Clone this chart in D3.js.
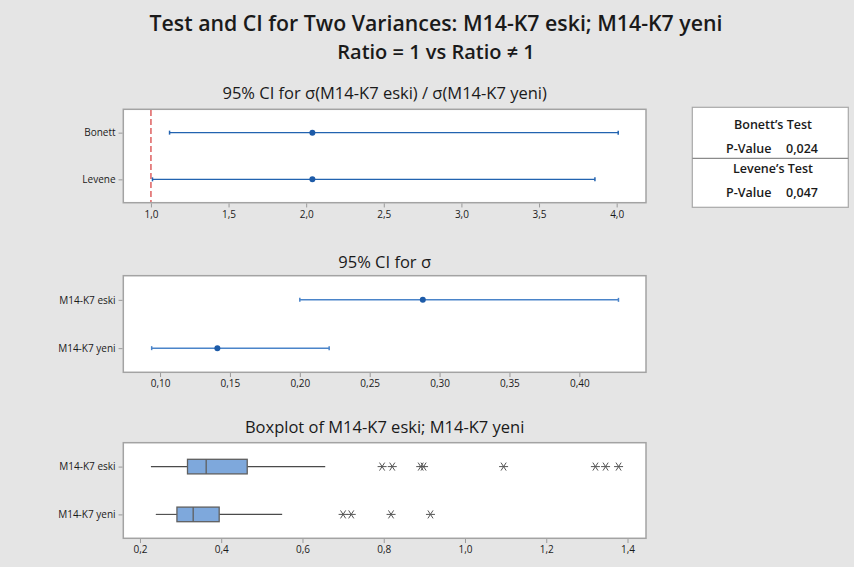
<!DOCTYPE html>
<html>
<head>
<meta charset="utf-8">
<script src="https://cdn.jsdelivr.net/npm/d3@7"></script>
<style>
  html, body { margin: 0; padding: 0; background: #e5e5e5; }
  svg { display: block; }
  text { font-family: "Open Sans", "Noto Sans", sans-serif; fill: #1a1a1a; }
</style>
</head>
<body>
<svg id="chart" width="854" height="567"></svg>
<script>
// ---------- DATA ----------
const ratioMethods = ["Bonett", "Levene"];
const ratioLower = [1.12, 1.01];
const ratioEstimate = [2.04, 2.04];
const ratioUpper = [4.01, 3.86];
const ratioTicks = [1.0, 1.5, 2.0, 2.5, 3.0, 3.5, 4.0];

const samples = ["M14-K7 eski", "M14-K7 yeni"];
const sigmaLower = [0.200, 0.094];
const sigmaEstimate = [0.288, 0.141];
const sigmaUpper = [0.428, 0.221];
const sigmaTicks = [0.10, 0.15, 0.20, 0.25, 0.30, 0.35, 0.40];

const whiskerLow = [0.227, 0.239];
const quartile1 = [0.317, 0.291];
const median = [0.363, 0.331];
const quartile3 = [0.464, 0.395];
const whiskerHigh = [0.656, 0.550];
const outliersEski = [0.796, 0.821, 0.891, 0.898, 1.095, 1.321, 1.346, 1.378];
const outliersYeni = [0.700, 0.720, 0.818, 0.915];
const boxTicks = [0.2, 0.4, 0.6, 0.8, 1.0, 1.2, 1.4];

const testNames = ["Bonett\u2019s Test", "Levene\u2019s Test"];
const pValues = ["0,024", "0,047"];

const mainTitle = "Test and CI for Two Variances: M14-K7 eski; M14-K7 yeni";
const subTitle = "Ratio = 1 vs Ratio \u2260 1";
const panelTitles = ["95% CI for \u03c3(M14-K7 eski) / \u03c3(M14-K7 yeni)", "95% CI for \u03c3", "Boxplot of M14-K7 eski; M14-K7 yeni"];

// ---------- SETUP ----------
const svg = d3.select("#chart");
const locale = d3.formatLocale({decimal: ",", thousands: ".", grouping: [3], currency: ["", ""]});
const W = 854, H = 567;
svg.append("rect").attr("width", W).attr("height", H).attr("fill", "#e5e5e5");

svg.append("text").attr("x", 436).attr("y", 30.5).attr("text-anchor", "middle")
  .style("font-size", "21.3px").style("font-weight", 600).text(mainTitle);
svg.append("text").attr("x", 436).attr("y", 58.5).attr("text-anchor", "middle")
  .style("font-size", "20px").style("font-weight", 600).text(subTitle);

const xL = 123.3, xR = 646;
const gridStroke = "#a3a3a3";

function panel(cfg) {
  const g = svg.append("g");
  const x = d3.scaleLinear().domain(cfg.domain).range([xL, xR]);
  const y = d3.scalePoint().domain(cfg.cats).range([cfg.top, cfg.bottom]).padding(0.5);
  g.append("rect").attr("x", xL).attr("y", cfg.top).attr("width", xR - xL).attr("height", cfg.bottom - cfg.top)
    .attr("fill", "#ffffff").attr("stroke", gridStroke).attr("stroke-width", 1.5);
  g.append("text").attr("x", (xL + xR) / 2).attr("y", cfg.titleY).attr("text-anchor", "middle")
    .style("font-size", "16.5px").style("font-weight", 500).text(cfg.title);
  const xa = g.append("g").attr("transform", `translate(0,${cfg.bottom + 0.75})`)
    .call(d3.axisBottom(x).tickValues(cfg.ticks).tickSize(4).tickPadding(3).tickFormat(locale.format(cfg.fmt)));
  xa.select(".domain").remove();
  xa.selectAll("line").attr("stroke", "#9a9a9a");
  xa.selectAll("text").style("font-size", "10px").style("font-family", "'Open Sans', sans-serif").attr("fill", "#222");
  const ya = g.append("g").attr("transform", `translate(${xL - 0.75},0)`)
    .call(d3.axisLeft(y).tickSize(4).tickPadding(3));
  ya.select(".domain").remove();
  ya.selectAll("line").attr("stroke", "#9a9a9a");
  ya.selectAll("text").style("font-size", "10px").style("font-family", "'Open Sans', sans-serif").attr("fill", "#222");
  return {g, x, y};
}

function ciPanel(p, cats, lo, est, hi, lineColor, dotColor, lw) {
  const rows = cats.map((c, i) => ({c, lo: lo[i], est: est[i], hi: hi[i]}));
  const r = p.g.selectAll(".ci").data(rows).enter().append("g");
  r.append("line").attr("x1", d => p.x(d.lo)).attr("x2", d => p.x(d.hi))
    .attr("y1", d => p.y(d.c)).attr("y2", d => p.y(d.c)).attr("stroke", lineColor).attr("stroke-width", lw);
  ["lo", "hi"].forEach(k => {
    r.append("line").attr("x1", d => p.x(d[k])).attr("x2", d => p.x(d[k]))
      .attr("y1", d => p.y(d.c) - 2).attr("y2", d => p.y(d.c) + 2).attr("stroke", lineColor).attr("stroke-width", 1.5);
  });
  r.append("circle").attr("cx", d => p.x(d.est)).attr("cy", d => p.y(d.c)).attr("r", 3).attr("fill", dotColor);
}

// Panel 1: ratio CI
const p1 = panel({domain: [0.822, 4.189], cats: ratioMethods, top: 109.3, bottom: 202.7, titleY: 99,
  title: panelTitles[0], ticks: ratioTicks, fmt: ".1f"});
p1.g.append("line").attr("x1", p1.x(1)).attr("x2", p1.x(1)).attr("y1", 110).attr("y2", 202)
  .attr("stroke", "#e06a6a").attr("stroke-width", 1.6).attr("stroke-dasharray", "6,3");
ciPanel(p1, ratioMethods, ratioLower, ratioEstimate, ratioUpper, "#2263b0", "#1d5ba8", 1.3);

// Panel 2: sigma CI
const p2 = panel({domain: [0.0737, 0.4477], cats: samples, top: 275.7, bottom: 372.3, titleY: 268,
  title: panelTitles[1], ticks: sigmaTicks, fmt: ".2f"});
ciPanel(p2, samples, sigmaLower, sigmaEstimate, sigmaUpper, "#4a84c9", "#1d5ba8", 1.5);

// Panel 3: boxplot
const p3 = panel({domain: [0.159, 1.4455], cats: samples, top: 442.7, bottom: 538.3, titleY: 433,
  title: panelTitles[2], ticks: boxTicks, fmt: ".1f"});
const boxes = samples.map((c, i) => ({c, wl: whiskerLow[i], q1: quartile1[i], md: median[i], q3: quartile3[i], wh: whiskerHigh[i]}));
const bg = p3.g.selectAll(".box").data(boxes).enter().append("g");
bg.append("line").attr("x1", d => p3.x(d.wl)).attr("x2", d => p3.x(d.q1)).attr("y1", d => p3.y(d.c)).attr("y2", d => p3.y(d.c))
  .attr("stroke", "#4a4a4a").attr("stroke-width", 1.1);
bg.append("line").attr("x1", d => p3.x(d.q3)).attr("x2", d => p3.x(d.wh)).attr("y1", d => p3.y(d.c)).attr("y2", d => p3.y(d.c))
  .attr("stroke", "#4a4a4a").attr("stroke-width", 1.1);
bg.append("rect").attr("x", d => p3.x(d.q1)).attr("width", d => p3.x(d.q3) - p3.x(d.q1))
  .attr("y", d => p3.y(d.c) - 7.3).attr("height", 14.6)
  .attr("fill", "#7ea8dc").attr("stroke", "#5f5f5f").attr("stroke-width", 1.3);
bg.append("line").attr("x1", d => p3.x(d.md)).attr("x2", d => p3.x(d.md))
  .attr("y1", d => p3.y(d.c) - 7.3).attr("y2", d => p3.y(d.c) + 7.3).attr("stroke", "#5f5f5f").attr("stroke-width", 1.3);

const outlierRows = [].concat(
  outliersEski.map(v => ({c: samples[0], v})),
  outliersYeni.map(v => ({c: samples[1], v})));
const star = "M-4.5,0L4.5,0M-2.6,-4L2.6,4M-2.6,4L2.6,-4";
p3.g.selectAll(".out").data(outlierRows).enter().append("path")
  .attr("transform", d => `translate(${p3.x(d.v)},${p3.y(d.c)})`)
  .attr("d", star).attr("fill", "none").attr("stroke", "#555").attr("stroke-width", 1);

// Test table
const tb = svg.append("g");
tb.append("rect").attr("x", 692.3).attr("y", 107.3).attr("width", 156).attr("height", 100)
  .attr("fill", "#ffffff").attr("stroke", "#a8a8a8").attr("stroke-width", 1.2);
tb.append("line").attr("x1", 692.3).attr("x2", 848.3).attr("y1", 158.3).attr("y2", 158.3)
  .attr("stroke", "#8a8a8a").attr("stroke-width", 1.2);
testNames.forEach((n, i) => {
  const oy = 107.3 + i * 44;
  tb.append("text").attr("x", 773).attr("y", oy + 22).attr("text-anchor", "middle")
    .style("font-size", "12.5px").style("font-weight", 600).text(n);
  tb.append("text").attr("x", 726).attr("y", oy + 45.5)
    .style("font-size", "12.5px").style("font-weight", 600).text("P-Value");
  tb.append("text").attr("x", 786).attr("y", oy + 45.5)
    .style("font-size", "12.5px").style("font-weight", 600).text(pValues[i]);
});
</script>
</body>
</html>
